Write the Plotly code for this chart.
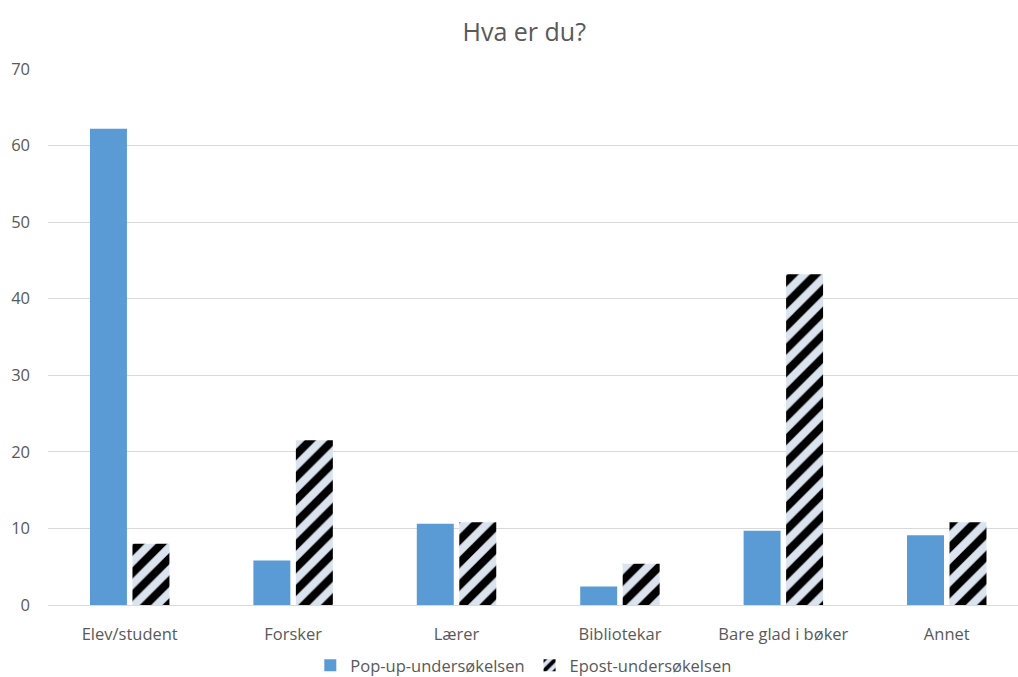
import plotly.graph_objects as go

categories = ["Elev/student", "Forsker", "Lærer", "Bibliotekar", "Bare glad i bøker", "Annet"]
popup_values = [62.2, 5.8, 10.6, 2.4, 9.7, 9.1]
epost_values = [8.0, 21.5, 10.8, 5.4, 43.2, 10.8]
series_names = ["Pop-up-undersøkelsen", "Epost-undersøkelsen"]
y_ticks = [0, 10, 20, 30, 40, 50, 60, 70]

FONT = "Open Sans"
TXT = "#595959"

fig = go.Figure()
fig.add_trace(go.Bar(
    x=categories, y=popup_values, name=series_names[0],
    marker=dict(color="#5b9bd5", line=dict(width=0)),
))
fig.add_trace(go.Bar(
    x=categories, y=epost_values, name=series_names[1],
    marker=dict(color="#dae3ee", line=dict(width=0),
                pattern=dict(shape="/", fgcolor="black", bgcolor="#dae3ee",
                             size=16, solidity=0.5, fillmode="replace")),
))

fig.update_layout(
    width=1018, height=677,
    margin=dict(l=48, r=0, t=69, b=72, autoexpand=False),
    paper_bgcolor="white", plot_bgcolor="white",
    title=dict(text="Hva er du?", x=0.515, xanchor="center", y=0.953, yanchor="middle",
               font=dict(family=FONT, size=25, color=TXT)),
    font=dict(family=FONT, size=16.5, color=TXT),
    barmode="group", bargap=0.48, bargroupgap=0.13,
    showlegend=True,
    legend=dict(orientation="h", x=0.49, xanchor="center", y=-0.113, yanchor="middle",
                font=dict(family=FONT, size=16.5, color=TXT), itemwidth=30,
                traceorder="normal"),
    xaxis=dict(range=[-0.5, 5.436], showgrid=False, showline=False, zeroline=False,
               ticks="", ticklabelstandoff=17,
               tickfont=dict(family=FONT, size=16.5, color=TXT)),
    yaxis=dict(range=[0, 70], tickvals=y_ticks, showgrid=True, gridcolor="#d9d9d9",
               gridwidth=1, zeroline=True, zerolinecolor="#d9d9d9", zerolinewidth=1,
               showline=False, ticks="", ticklabelstandoff=17,
               tickfont=dict(family=FONT, size=16.5, color=TXT)),
)

fig.write_html("out.html")
